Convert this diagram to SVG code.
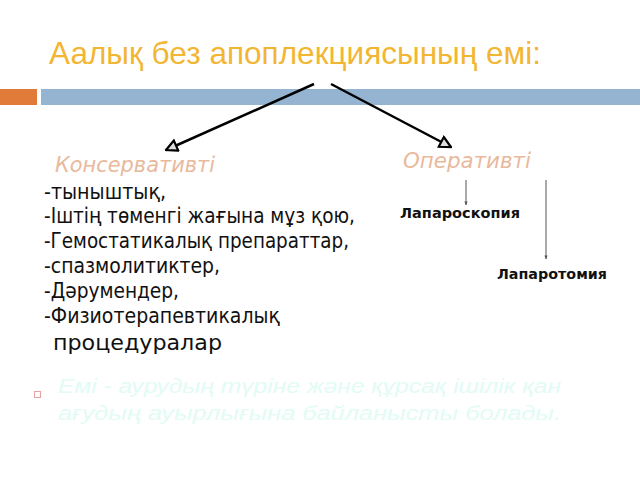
<svg xmlns="http://www.w3.org/2000/svg" width="640" height="480" viewBox="0 0 640 480">
<defs>
<style>
.title{font-family:"Liberation Sans Narrow","Liberation Sans",Arial,sans-serif;font-size:32px;fill:#F2B632}
.head{font-family:"DejaVu Sans Condensed","DejaVu Sans",sans-serif;font-style:italic;font-size:22px;fill:#E9B99C}
.item{font-family:"DejaVu Sans Condensed","DejaVu Sans",sans-serif;font-size:21px;fill:#111}
.sub{font-family:"DejaVu Sans",sans-serif;font-weight:bold;font-size:13.5px;fill:#111}
.note{font-family:"Liberation Sans",Arial,sans-serif;font-style:italic;font-size:20px;fill:#E2FBF5}
.big{stroke:#000;stroke-width:2.5;fill:none}
.thin{stroke:#555;stroke-width:1;fill:none}
</style>
<marker id="ah" viewBox="0 0 10 10" refX="9" refY="5" markerWidth="5.5" markerHeight="5.5" orient="auto" markerUnits="strokeWidth">
<path d="M1,1 L9,5 L1,9 Z" fill="#ddd" stroke="#000" stroke-width="1.6"/>
</marker>
<marker id="sh" viewBox="0 0 10 10" refX="9" refY="5" markerWidth="4" markerHeight="4" orient="auto" markerUnits="strokeWidth">
<path d="M0,1 L10,5 L0,9 Z" fill="#555"/>
</marker>
</defs>
<rect width="640" height="480" fill="#fff"/>
<g id="title">
<text class="title" x="49" y="64" textLength="492" lengthAdjust="spacingAndGlyphs">Аалық без апоплекциясының емі:</text>
</g>
<g id="bars">
<rect x="0" y="89" width="37" height="16" fill="#E07B39"/>
<rect x="41" y="89" width="599" height="16" fill="#94B4D2"/>
</g>
<g id="connectors">
<line class="big" x1="314" y1="84" x2="166" y2="150" marker-end="url(#ah)"/>
<line class="big" x1="331" y1="84" x2="451" y2="147" marker-end="url(#ah)"/>
<line class="thin" x1="466" y1="180" x2="466" y2="205" marker-end="url(#sh)"/>
<line class="thin" x1="546" y1="180" x2="546" y2="259" marker-end="url(#sh)"/>
</g>
<g id="konservativti">
<text class="head" x="55" y="172" textLength="160" lengthAdjust="spacingAndGlyphs">Консервативті</text>
<text class="item" x="44" y="199" textLength="122" lengthAdjust="spacingAndGlyphs">-тыныштық,</text>
<text class="item" x="44" y="223" textLength="311" lengthAdjust="spacingAndGlyphs">-Іштің төменгі жағына мұз қою,</text>
<text class="item" x="44" y="248" textLength="305" lengthAdjust="spacingAndGlyphs">-Гемостатикалық препараттар,</text>
<text class="item" x="44" y="273" textLength="176" lengthAdjust="spacingAndGlyphs">-спазмолитиктер,</text>
<text class="item" x="44" y="298" textLength="135" lengthAdjust="spacingAndGlyphs">-Дәрумендер,</text>
<text class="item" x="44" y="323" textLength="236" lengthAdjust="spacingAndGlyphs">-Физиотерапевтикалық</text>
<text class="item" x="53" y="350" textLength="169" lengthAdjust="spacingAndGlyphs">процедуралар</text>
</g>
<g id="operativti">
<text class="head" x="403" y="168" textLength="128" lengthAdjust="spacingAndGlyphs">Оперативті</text>
</g>
<g id="laparoskopiya">
<text class="sub" x="400" y="218" textLength="120" lengthAdjust="spacingAndGlyphs">Лапароскопия</text>
</g>
<g id="laparotomiya">
<text class="sub" x="497" y="279" textLength="110" lengthAdjust="spacingAndGlyphs">Лапаротомия</text>
</g>
<g id="note">
<rect x="34.5" y="391.5" width="6" height="6" fill="none" stroke="#E8A0A0" stroke-width="1"/>
<text class="note" x="58" y="393" textLength="503" lengthAdjust="spacingAndGlyphs">Емі - аурудың түріне және құрсақ ішілік қан</text>
<text class="note" x="58" y="420" textLength="503" lengthAdjust="spacingAndGlyphs">ағудың ауырлығына байланысты болады.</text>
</g>
</svg>
